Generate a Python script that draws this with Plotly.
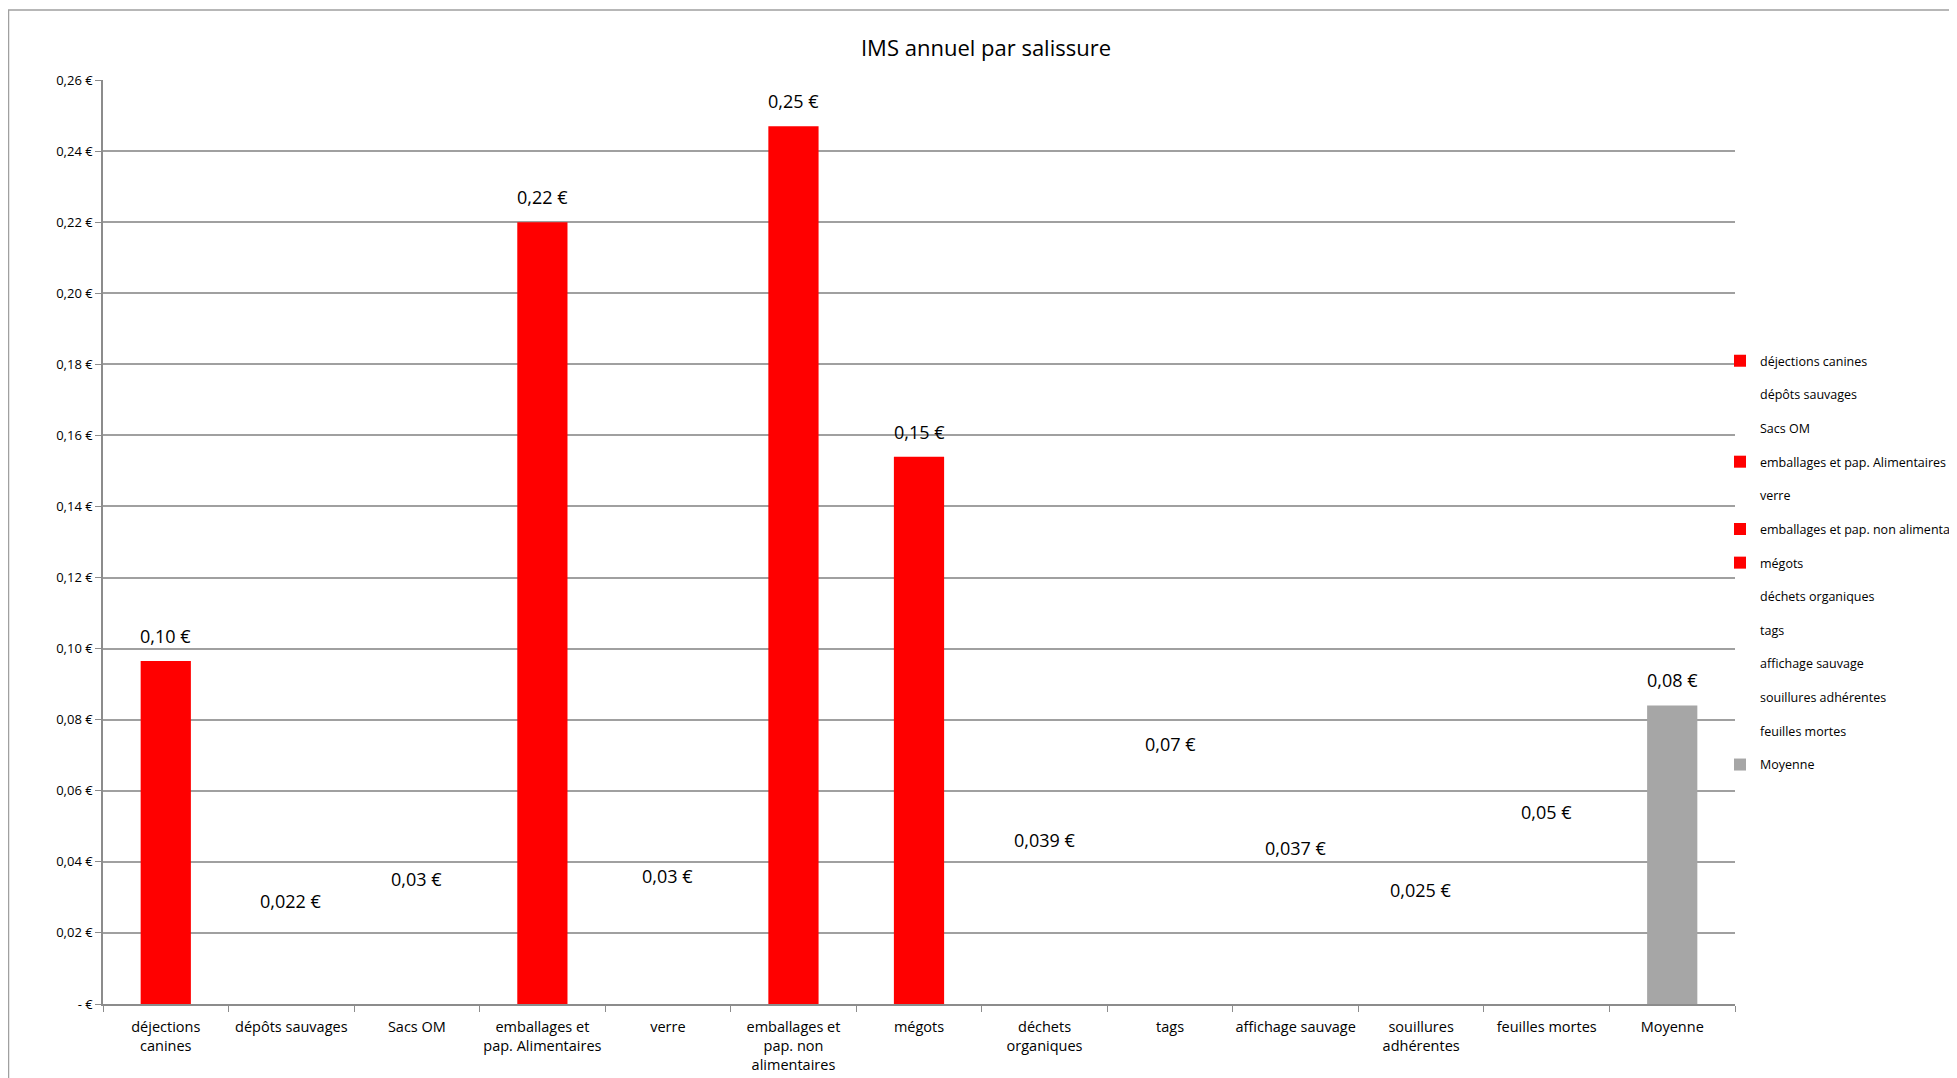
import plotly.graph_objects as go

categories = ["déjections canines", "dépôts sauvages", "Sacs OM", "emballages et pap. Alimentaires",
              "verre", "emballages et pap. non alimentaires", "mégots", "déchets organiques", "tags",
              "affichage sauvage", "souillures adhérentes", "feuilles mortes", "Moyenne"]
tick_labels = ["déjections<br>canines", "dépôts sauvages", "Sacs OM", "emballages et<br>pap. Alimentaires",
               "verre", "emballages et<br>pap. non<br>alimentaires", "mégots", "déchets<br>organiques", "tags",
               "affichage sauvage", "souillures<br>adhérentes", "feuilles mortes", "Moyenne"]
values = [0.0965, 0.022, 0.028, 0.22, 0.029, 0.247, 0.154, 0.039, 0.066, 0.037, 0.025, 0.047, 0.084]
value_labels = ["0,10 €", "0,022 €", "0,03 €", "0,22 €", "0,03 €", "0,25 €", "0,15 €", "0,039 €",
                "0,07 €", "0,037 €", "0,025 €", "0,05 €", "0,08 €"]
colors = ["#FF0000", "rgba(0,0,0,0)", "rgba(0,0,0,0)", "#FF0000", "rgba(0,0,0,0)", "#FF0000", "#FF0000",
          "rgba(0,0,0,0)", "rgba(0,0,0,0)", "rgba(0,0,0,0)", "rgba(0,0,0,0)", "rgba(0,0,0,0)", "#A6A6A6"]
y_ticks = [0, 0.02, 0.04, 0.06, 0.08, 0.10, 0.12, 0.14, 0.16, 0.18, 0.20, 0.22, 0.24, 0.26]
y_tick_labels = ["- €", "0,02 €", "0,04 €", "0,06 €", "0,08 €", "0,10 €", "0,12 €", "0,14 €", "0,16 €",
                 "0,18 €", "0,20 €", "0,22 €", "0,24 €", "0,26 €"]

FONT = "Open Sans"
W, H = 1957, 1078
L, R, T, B = 95, 230, 72, 82
PW, PH = W - L - R, H - T - B

fig = go.Figure()
for i, (cat, val, col) in enumerate(zip(categories, values, colors)):
    fig.add_trace(go.Bar(x=[tick_labels[i]], y=[val], name=cat, marker=dict(color=col, line=dict(width=0)),
                         width=0.4, legendgroup=str(i), hoverinfo="name+y"))

annotations = []
for tl, val, lab in zip(tick_labels, values, value_labels):
    annotations.append(dict(x=tl, y=val, text=lab, showarrow=False, yshift=25, yanchor="middle",
                            font=dict(family=FONT, size=18, color="#000000")))

fig.update_layout(
    width=W, height=H,
    margin=dict(l=L, r=R, t=T, b=B, autoexpand=False),
    paper_bgcolor="white", plot_bgcolor="white",
    barmode="overlay",
    title=dict(text="IMS annuel par salissure", x=978 / W, y=1 - 40 / H, xanchor="center",
               yanchor="middle", font=dict(family=FONT, size=22, color="#000000")),
    font=dict(family=FONT, color="#000000"),
    xaxis=dict(type="category", categoryorder="array", categoryarray=tick_labels, tickangle=0,
               showline=True, linecolor="#8C8C8C", linewidth=1.5, ticks="outside", tickson="boundaries",
               ticklen=6, tickcolor="#8C8C8C", tickfont=dict(family=FONT, size=14.5, color="#000000"),
               ticklabelstandoff=9, showgrid=False, fixedrange=True, automargin=False),
    yaxis=dict(range=[0, 0.26], tickvals=y_ticks, ticktext=y_tick_labels, showline=True,
               linecolor="#8C8C8C", linewidth=1.5, ticks="outside", ticklen=6, tickcolor="#8C8C8C",
               showgrid=True, gridcolor="#A0A0A0", gridwidth=1.5, zeroline=False, automargin=False,
               tickfont=dict(family=FONT, size=13, color="#000000")),
    legend=dict(x=(1712 - L) / PW, xanchor="left", y=0.712, yanchor="top",
                font=dict(family=FONT, size=12.5, color="#000000"),
                tracegroupgap=14.4, itemwidth=30, bgcolor="rgba(0,0,0,0)"),
    showlegend=True,
    annotations=annotations,
    shapes=[dict(type="rect", xref="paper", yref="paper", x0=(0.5 - L) / PW, x1=(W + 20 - L) / PW,
                 y0=(PH + T - H - 40) / PH, y1=(PH + T - 2) / PH, line=dict(color="#A0A0A0", width=1.5),
                 fillcolor="rgba(0,0,0,0)", layer="below")],
)

fig.write_html("out.html")
